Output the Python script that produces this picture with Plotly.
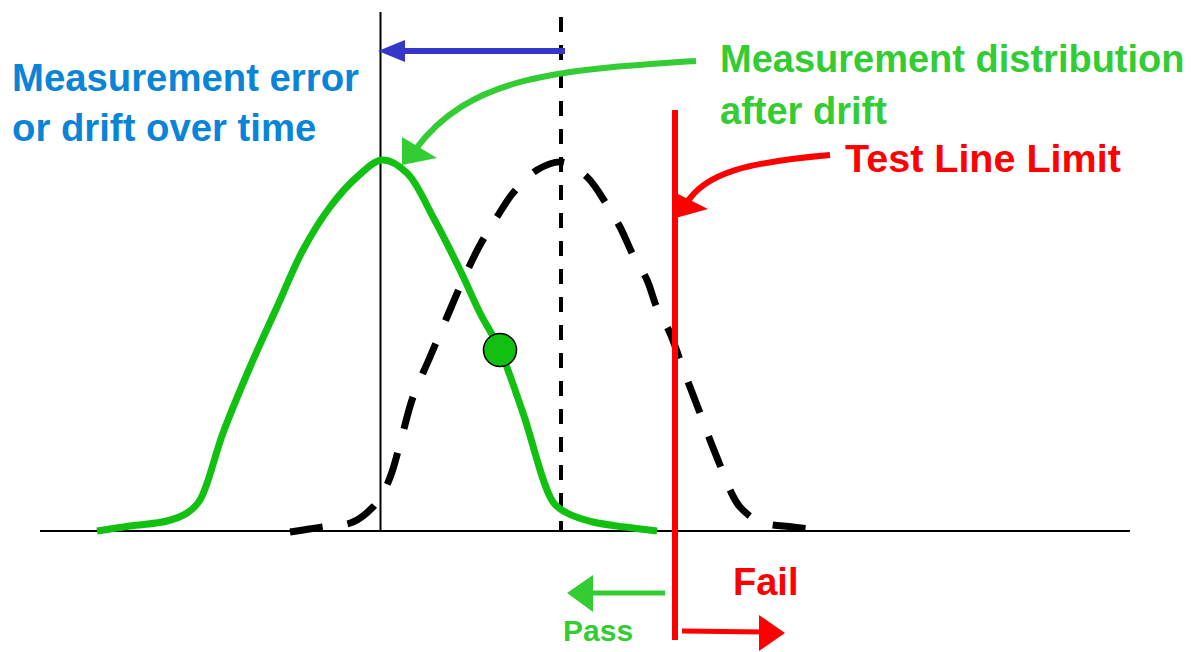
import plotly.graph_objects as go

# ---- data (diagram coordinates) ----
green_x = [97, 130, 167, 187, 200, 223, 250, 277, 303, 330, 357, 382, 407, 433, 460, 480, 500, 523, 553, 567, 593, 625, 657]
green_y = [531, 526, 521, 513, 500, 433, 367, 307, 250, 207, 177, 160, 173, 217, 270, 313, 350, 413, 502, 513, 522, 527, 531]

black_x = [290, 323, 353, 373, 383, 392, 402, 413, 430, 447, 463, 480, 497, 513, 537, 562, 587, 607, 620, 633, 647, 657, 670, 680, 690, 700, 710, 720, 730, 740, 760, 793, 823]
black_y = [532, 527, 522, 507, 493, 472, 436, 397, 357, 317, 280, 245, 217, 193, 170, 162, 177, 205, 227, 255, 280, 308, 333, 360, 387, 413, 440, 465, 490, 507, 522, 527, 530]

marker_x = [500]
marker_y = [350]

baseline_x = [40, 1130]
baseline_y = [531, 531]
drift_mean_x = [380.5, 380.5]
drift_mean_y = [12, 531]
orig_mean_x = [561, 561]
orig_mean_y = [17, 531]
limit_x = [675, 675]
limit_y = [110, 640]

blue_shaft_x = [565, 400]
blue_shaft_y = [51, 51]
blue_head_x = [378, 405, 405]
blue_head_y = [51, 40, 62]

green_head_x = [402, 402, 437]
green_head_y = [165, 137, 158]
red_head_x = [672, 708, 672]
red_head_y = [191, 209, 219]

pass_shaft_x = [665, 590]
pass_shaft_y = [593, 593]
pass_head_x = [567, 593, 593]
pass_head_y = [593, 575, 612]

fail_shaft_x = [682, 765]
fail_shaft_y = [631, 632]
fail_head_x = [785, 759, 759]
fail_head_y = [633, 615, 651]

GREEN = "#11c011"
LGREEN = "#33cc33"
BLUE = "#3636c8"
TBLUE = "#0a84d6"
RED = "#ff0000"

fig = go.Figure()

def line(x, y, color, width, dash=None, shape="linear"):
    fig.add_trace(go.Scatter(x=x, y=y, mode="lines", hoverinfo="skip", showlegend=False,
                             line=dict(color=color, width=width, dash=dash, shape=shape,
                                       smoothing=1.0 if shape == "spline" else None)))

def tri(x, y, color):
    fig.add_trace(go.Scatter(x=x, y=y, mode="lines", fill="toself", fillcolor=color,
                             hoverinfo="skip", showlegend=False, line=dict(color=color, width=0)))

line(baseline_x, baseline_y, "black", 2)
line(drift_mean_x, drift_mean_y, "black", 2)
line(orig_mean_x, orig_mean_y, "black", 4, dash="15px,13px")
line(black_x, black_y, "black", 7, dash="33px,25px", shape="spline")
line(green_x, green_y, GREEN, 7, shape="spline")
line(limit_x, limit_y, RED, 6)

line(blue_shaft_x, blue_shaft_y, BLUE, 6)
tri(blue_head_x, blue_head_y, BLUE)
tri(green_head_x, green_head_y, LGREEN)
tri(red_head_x, red_head_y, RED)
line(pass_shaft_x, pass_shaft_y, LGREEN, 5)
tri(pass_head_x, pass_head_y, LGREEN)
line(fail_shaft_x, fail_shaft_y, RED, 5)
tri(fail_head_x, fail_head_y, RED)

fig.add_trace(go.Scatter(x=marker_x, y=marker_y, mode="markers", hoverinfo="skip", showlegend=False,
                         marker=dict(size=33, color=GREEN, line=dict(color="black", width=1.5))))

fig.add_shape(type="path", xref="x", yref="y", path="M 696,61 C 560,70 470,75 415,150",
              line=dict(color=LGREEN, width=6))
fig.add_shape(type="path", xref="x", yref="y", path="M 830,155 C 750,162 705,172 686,204",
              line=dict(color=RED, width=6))

FONT = "Liberation Sans"

def label(text, x, y, color, size):
    fig.add_annotation(x=x, y=y, xref="x", yref="y", text=text, showarrow=False,
                       xanchor="left", yanchor="middle",
                       font=dict(family=FONT, size=size, color=color, weight="bold"))

label("Measurement error", 10, 77, TBLUE, 38.3)
label("or drift over time", 10, 127, TBLUE, 38.3)
label("Measurement distribution", 718, 59, LGREEN, 38)
label("after drift", 718, 111, LGREEN, 38)
label("Test Line Limit", 843, 158, RED, 39.5)
label("Fail", 731, 582, RED, 38)
label("Pass", 561, 630, LGREEN, 30)

# the page body has an 8px margin; ranges are offset so data units equal page pixels
fig.update_layout(width=1187, height=644, margin=dict(l=0, r=0, t=0, b=0),
                  paper_bgcolor="white", plot_bgcolor="white",
                  xaxis=dict(range=[8, 1195], visible=False, fixedrange=True),
                  yaxis=dict(range=[652, 8], visible=False, fixedrange=True))

fig.write_html("out.html")
